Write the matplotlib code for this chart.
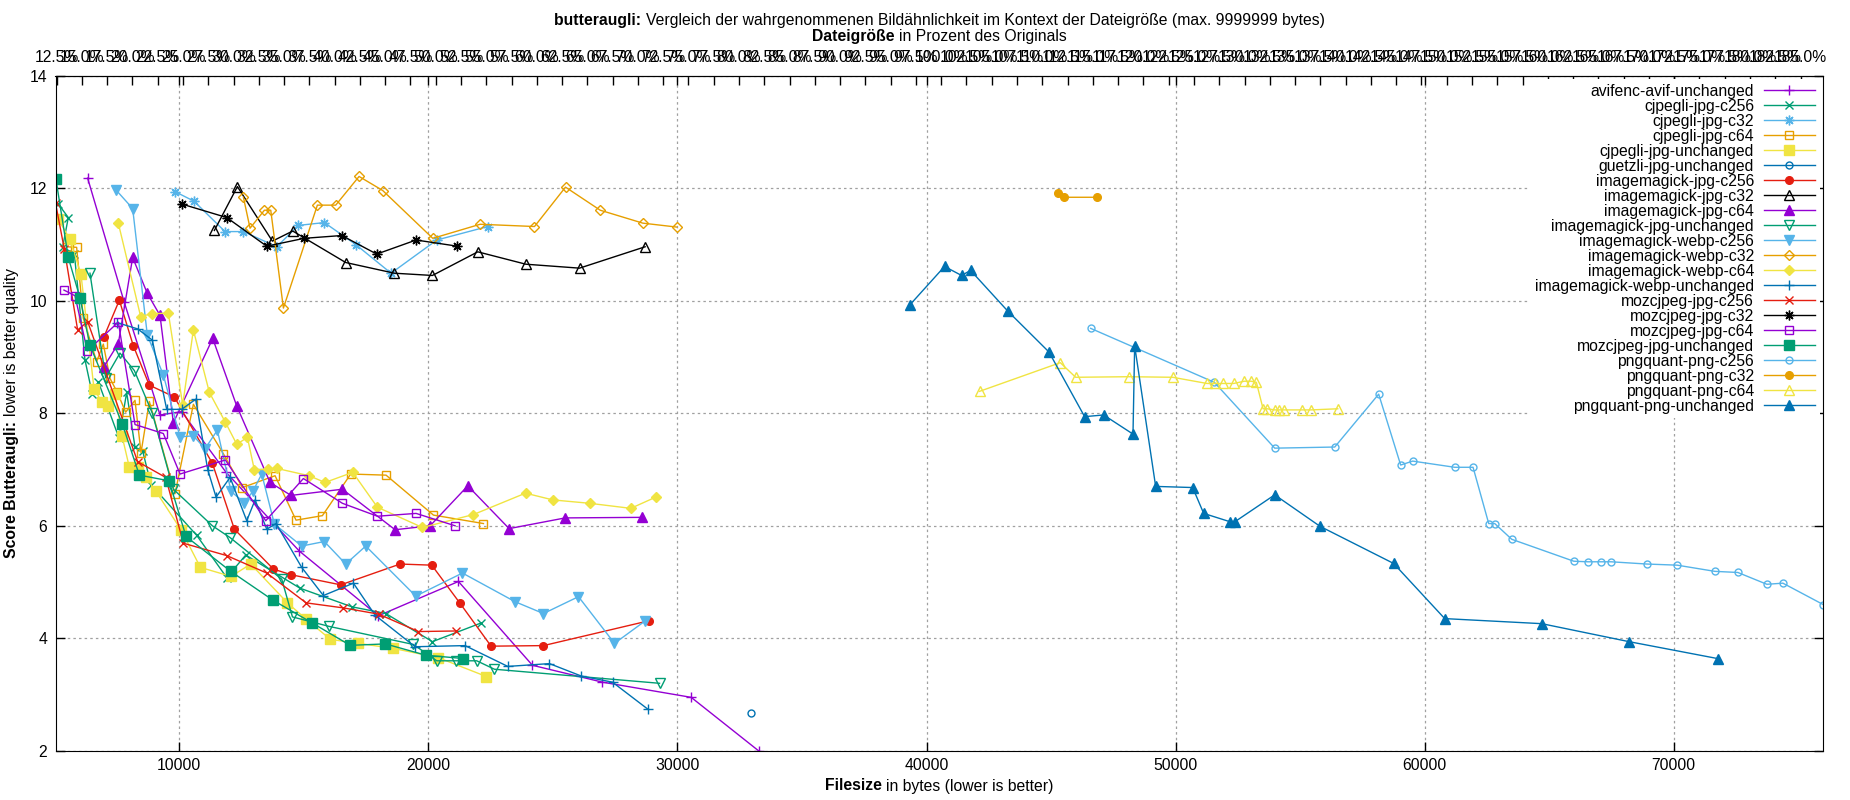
import matplotlib
matplotlib.use("Agg")
import matplotlib.pyplot as plt
import numpy as np
from matplotlib.ticker import MultipleLocator, FuncFormatter

# original file size in bytes (for the percent axis on top)
orig_bytes = 40590

# --- data: filesize in bytes / butteraugli score ---
avif_x = [6320, 7793, 9226, 10096, 11878, 14821, 17994, 21208, 24179, 26991, 30553, 33258]
avif_y = [12.18, 9.97, 7.97, 8.03, 6.95, 5.55, 4.40, 5.01, 3.52, 3.22, 2.95, 2.0]

cjpegli_c256_x = [5142, 5544, 5316, 5785, 6213, 6508, 6749, 7580, 7887, 8222, 8530, 8865,
                  10699, 11904, 12668, 14848, 16926, 18292, 20162, 22104]
cjpegli_c256_y = [11.72, 11.48, 10.95, 10.84, 8.95, 8.34, 8.56, 7.56, 8.37, 7.40, 7.33, 6.73,
                  5.83, 5.08, 5.48, 4.89, 4.56, 4.44, 3.94, 4.27]

cjpegli_c32_x = [9829, 10592, 11837, 12574, 13913, 14781, 15825, 17084, 18503, 20338, 22386]
cjpegli_c32_y = [11.94, 11.77, 11.23, 11.23, 10.96, 11.34, 11.39, 11.0, 10.49, 11.08, 11.32]

cjpegli_c64_x = [5477, 5879, 6146, 6682, 6950, 7218, 7512, 7847, 8222, 8463, 8798, 9829,
                 10565, 11771, 12534, 13846, 14687, 15745, 16883, 18302, 20204, 22212]
cjpegli_c64_y = [10.96, 10.95, 9.69, 8.92, 9.23, 8.62, 8.37, 8.02, 8.23, 7.30, 8.21, 6.57,
                 8.16, 7.28, 6.68, 6.89, 6.10, 6.18, 6.92, 6.90, 6.19, 6.04]

cjpegli_unch_x = [5142, 5611, 6053, 6575, 6883, 7124, 7419, 7700, 7995, 8329, 8664, 9052,
                  10083, 10847, 12079, 12869, 14342, 15091, 16069, 17193, 18599, 20403, 22331]
cjpegli_unch_y = [11.45, 11.09, 10.47, 8.44, 8.20, 8.13, 8.34, 7.60, 7.04, 7.05, 6.86, 6.62,
                  5.92, 5.26, 5.10, 5.32, 4.63, 4.34, 3.98, 3.91, 3.82, 3.655, 3.32]

guetzli_x = [32963]
guetzli_y = [2.68]

im_jpg_c256_x = [6977, 7593, 8155, 8797, 9802, 11329, 12212, 13779, 14486, 16481, 18865,
                 20137, 21275, 22519, 24621, 28839]
im_jpg_c256_y = [9.36, 10.01, 9.20, 8.50, 8.29, 7.11, 5.94, 5.23, 5.13, 4.95, 5.32,
                 5.30, 4.62, 3.86, 3.87, 4.31]

im_jpg_c32_x = [11409, 12333, 13738, 14553, 16682, 18637, 20163, 21984, 23913, 26069, 28703]
im_jpg_c32_y = [11.25, 12.03, 11.06, 11.24, 10.68, 10.49, 10.45, 10.87, 10.65, 10.58, 10.96]

im_jpg_c64_x = [6977, 7552, 8128, 8717, 9226, 9762, 11342, 12306, 13645, 14486, 16548,
                18664, 20070, 21583, 23243, 25493, 28595]
im_jpg_c64_y = [8.83, 9.24, 10.77, 10.13, 9.74, 7.83, 9.33, 8.13, 6.77, 6.54, 6.65,
                5.93, 6.0, 6.71, 5.95, 6.14, 6.15]

im_jpg_unch_x = [6414, 7044, 7619, 8195, 8918, 9762, 11329, 12039, 14114, 14543, 16029,
                 19403, 20336, 21113, 21943, 22653, 29281]
im_jpg_unch_y = [10.49, 8.63, 9.07, 8.76, 8.0, 6.65, 6.0, 5.79, 5.05, 4.38, 4.21,
                 3.89, 3.60, 3.60, 3.60, 3.45, 3.20]

im_webp_c256_x = [7459, 8128, 8717, 9360, 10030, 10565, 11034, 11529, 12079, 12614, 12949,
                  13310, 13819, 14915, 15825, 16682, 17486, 19494, 21369, 23483, 24621,
                  26027, 27473, 28678]
im_webp_c256_y = [11.97, 11.64, 9.39, 8.68, 7.58, 7.60, 7.37, 7.70, 6.61, 6.41, 6.61,
                  6.92, 6.03, 5.64, 5.72, 5.32, 5.64, 4.75, 5.16, 4.65, 4.44,
                  4.74, 3.91, 4.30]

im_webp_c32_x = [12574, 12841, 13417, 13672, 14180, 15544, 16280, 17218, 18168, 20177,
                 22078, 24261, 25506, 26899, 28609, 29975]
im_webp_c32_y = [11.84, 11.29, 11.61, 11.61, 9.87, 11.70, 11.70, 12.21, 11.96, 11.11,
                 11.36, 11.32, 12.02, 11.61, 11.38, 11.31]

im_webp_c64_x = [7552, 8449, 8891, 9561, 10137, 10565, 11208, 11851, 12306, 12735, 13016,
                 13552, 13913, 15209, 15852, 16963, 17954, 19762, 21811, 23900, 24997,
                 26470, 28127, 29131]
im_webp_c64_y = [11.38, 9.72, 9.77, 9.78, 8.15, 9.48, 8.37, 7.84, 7.45, 7.57, 6.99,
                 7.01, 7.02, 6.89, 6.77, 6.95, 6.33, 5.97, 6.20, 6.58, 6.46,
                 6.40, 6.31, 6.51]

im_webp_unch_x = [7512, 8329, 8918, 9494, 10096, 10659, 11141, 11476, 12039, 12708, 13043,
                  13511, 13886, 14915, 15785, 16990, 17863, 19466, 21474, 23188, 24862,
                  26134, 27393, 28812]
im_webp_unch_y = [9.61, 9.50, 9.30, 8.07, 8.07, 8.25, 7.0, 6.51, 6.86, 6.09, 6.46,
                  5.94, 6.04, 5.26, 4.76, 4.98, 4.41, 3.85, 3.87, 3.50, 3.55,
                  3.33, 3.22, 2.74]

moz_c256_x = [5030, 5383, 5919, 6320, 8329, 9454, 10164, 11905, 13511, 15091, 16591,
              18000, 19601, 21101]
moz_c256_y = [11.74, 10.92, 9.48, 9.63, 7.14, 6.86, 5.69, 5.47, 5.16, 4.63, 4.54,
              4.43, 4.12, 4.13]

moz_c32_x = [10096, 11904, 13511, 15010, 16524, 17927, 19507, 21168]
moz_c32_y = [11.72, 11.48, 10.97, 11.11, 11.16, 10.83, 11.08, 10.97]

moz_c64_x = [5370, 5812, 6307, 7552, 8222, 9360, 10030, 11851, 13471, 14982, 16548,
             17954, 19507, 21074]
moz_c64_y = [10.19, 10.09, 9.11, 9.62, 7.80, 7.64, 6.92, 7.17, 6.09, 6.84, 6.40,
             6.17, 6.22, 6.0]

moz_unch_x = [5048, 5544, 6013, 6414, 7713, 8396, 9588, 10271, 12065, 13752, 15346,
              16859, 18278, 19894, 21407]
moz_unch_y = [12.16, 10.77, 10.05, 9.21, 7.81, 6.90, 6.80, 5.81, 5.19, 4.68, 4.27,
              3.875, 3.90, 3.70, 3.64]

pq_c256_x = [46589, 51557, 53980, 56390, 58154, 59037, 59519, 61206, 61943, 62572, 62813,
             63496, 65987, 66549, 67085, 67486, 68919, 70138, 71651, 72575, 73740, 74383,
             76000]
pq_c256_y = [9.51, 8.55, 7.38, 7.40, 8.34, 7.08, 7.15, 7.04, 7.04, 6.04, 6.04,
             5.76, 5.37, 5.36, 5.36, 5.36, 5.32, 5.30, 5.19, 5.17, 4.96, 4.98,
             4.60]

pq_c32_x = [45263, 45531, 46844]
pq_c32_y = [11.91, 11.84, 11.84]

pq_c64_x = [42130, 45371, 45987, 48116, 49883, 51262, 51570, 51892, 52333, 52762, 53029,
            53244, 53512, 53672, 53980, 54168, 54369, 55065, 55453, 56511]
pq_c64_y = [8.39, 8.90, 8.64, 8.65, 8.64, 8.53, 8.53, 8.53, 8.53, 8.57, 8.57,
            8.55, 8.08, 8.08, 8.06, 8.06, 8.06, 8.06, 8.06, 8.08]

pq_unch_x = [39318, 40724, 41407, 41769, 43255, 44915, 46348, 47111, 48290, 48357, 49200,
             50686, 51128, 52200, 52374, 53980, 55801, 58756, 60805, 64701, 68209, 71758]
pq_unch_y = [9.92, 10.61, 10.45, 10.54, 9.82, 9.09, 7.94, 7.97, 7.63, 9.20, 6.70,
             6.68, 6.22, 6.07, 6.07, 6.55, 5.99, 5.33, 4.35, 4.26, 3.94, 3.64]

series = [
    ("avifenc-avif-unchanged", avif_x, avif_y),
    ("cjpegli-jpg-c256", cjpegli_c256_x, cjpegli_c256_y),
    ("cjpegli-jpg-c32", cjpegli_c32_x, cjpegli_c32_y),
    ("cjpegli-jpg-c64", cjpegli_c64_x, cjpegli_c64_y),
    ("cjpegli-jpg-unchanged", cjpegli_unch_x, cjpegli_unch_y),
    ("guetzli-jpg-unchanged", guetzli_x, guetzli_y),
    ("imagemagick-jpg-c256", im_jpg_c256_x, im_jpg_c256_y),
    ("imagemagick-jpg-c32", im_jpg_c32_x, im_jpg_c32_y),
    ("imagemagick-jpg-c64", im_jpg_c64_x, im_jpg_c64_y),
    ("imagemagick-jpg-unchanged", im_jpg_unch_x, im_jpg_unch_y),
    ("imagemagick-webp-c256", im_webp_c256_x, im_webp_c256_y),
    ("imagemagick-webp-c32", im_webp_c32_x, im_webp_c32_y),
    ("imagemagick-webp-c64", im_webp_c64_x, im_webp_c64_y),
    ("imagemagick-webp-unchanged", im_webp_unch_x, im_webp_unch_y),
    ("mozcjpeg-jpg-c256", moz_c256_x, moz_c256_y),
    ("mozcjpeg-jpg-c32", moz_c32_x, moz_c32_y),
    ("mozcjpeg-jpg-c64", moz_c64_x, moz_c64_y),
    ("mozcjpeg-jpg-unchanged", moz_unch_x, moz_unch_y),
    ("pngquant-png-c256", pq_c256_x, pq_c256_y),
    ("pngquant-png-c32", pq_c32_x, pq_c32_y),
    ("pngquant-png-c64", pq_c64_x, pq_c64_y),
    ("pngquant-png-unchanged", pq_unch_x, pq_unch_y),
]

# gnuplot default colour cycle (8) and point types (13)
colors = ["#9400d3", "#009e73", "#56b4e9", "#e69f00",
          "#f0e442", "#0072b2", "#e51e10", "#000000"]
markers = [("+", False, 7), ("x", False, 6), ((8, 2, 0), False, 7),
           ("s", False, 6), ("s", True, 6.5), ("o", False, 5), ("o", True, 5.5),
           ("^", False, 6.5), ("^", True, 6.5), ("v", False, 6.5), ("v", True, 6.5),
           ("D", False, 5), ("D", True, 5)]

FS = 11.3
W, H = 1850, 800
plt.rcParams['font.family'] = ['Liberation Sans', 'DejaVu Sans']
plt.rcParams['font.size'] = FS

fig = plt.figure(figsize=(W / 100, H / 100), dpi=100)
ax = fig.add_axes([0.030, 0.0615, 0.9555, 0.8438])

for i, (name, xs, ys) in enumerate(series):
    c = colors[i % 8]
    mk, filled, ms = markers[i % 13]
    ax.plot(xs, ys, color=c, lw=1.0, marker=mk, ms=ms,
            mfc=c if filled else 'none', mec=c, mew=1.0, label=name)

all_x = np.concatenate([np.array(s[1]) for s in series])
ax.set_xlim(all_x.min(), all_x.max())
ax.set_ylim(2, 14)

ax.xaxis.set_major_locator(MultipleLocator(10000))
ax.yaxis.set_major_locator(MultipleLocator(2))
ax.grid(True, color='#a0a0a0', ls=(0, (2, 2.5)), lw=0.9)
ax.set_axisbelow(True)
ax.tick_params(direction='in', length=6.5, width=1, top=True, right=True,
               labelsize=FS)
ax.tick_params(axis='x', pad=5)
ax.tick_params(axis='y', pad=6)

secax = ax.secondary_xaxis('top', functions=(lambda b: b / orig_bytes * 100,
                                             lambda p: p * orig_bytes / 100))
secax.xaxis.set_major_locator(MultipleLocator(2.5))
secax.xaxis.set_major_formatter(FuncFormatter(lambda v, pos: "%.1f%%" % v))
secax.tick_params(direction='in', length=6.5, width=1, pad=8, labelsize=FS)

ax.legend(loc='upper right', markerfirst=False, frameon=True, facecolor='white',
          edgecolor='none', framealpha=1, fancybox=False, fontsize=FS,
          handlelength=3.3, labelspacing=0.0, borderpad=0.3,
          borderaxespad=0.2, handletextpad=0.6)

renderer = fig.canvas.get_renderer()


def bold_prefix(xpx, ypx, bold, rest, rotation=0):
    # bold part followed by normal text, centred on (xpx, ypx) in pixels from top-left
    t1 = fig.text(0, 0, bold, fontweight='bold', fontsize=FS, rotation=rotation)
    t2 = fig.text(0, 0, rest, fontsize=FS, rotation=rotation)
    b1 = t1.get_window_extent(renderer)
    b2 = t2.get_window_extent(renderer)
    fy = 1 - ypx / H
    if rotation == 0:
        start = xpx - (b1.width + b2.width) / 2
        t1.set(position=(start / W, fy), ha='left', va='center')
        t2.set(position=((start + b1.width) / W, fy), ha='left', va='center')
    else:
        start = (H - ypx) - (b1.height + b2.height) / 2
        t1.set(position=(xpx / W, start / H), ha='center', va='bottom')
        t2.set(position=(xpx / W, (start + b1.height) / H), ha='center', va='bottom')


cx = (0.030 + 0.9555 / 2) * W
bold_prefix(cx, 21, "butteraugli: ",
            "Vergleich der wahrgenommenen Bildähnlichkeit im Kontext der Dateigröße (max. 9999999 bytes)")
bold_prefix(cx, 37, "Dateigröße ", "in Prozent des Originals")
bold_prefix(cx, 786, "Filesize ", "in bytes (lower is better)")
bold_prefix(12, 413, "Score Butteraugli: ", "lower is better quality", rotation=90)

fig.savefig("out.png", dpi=100)
